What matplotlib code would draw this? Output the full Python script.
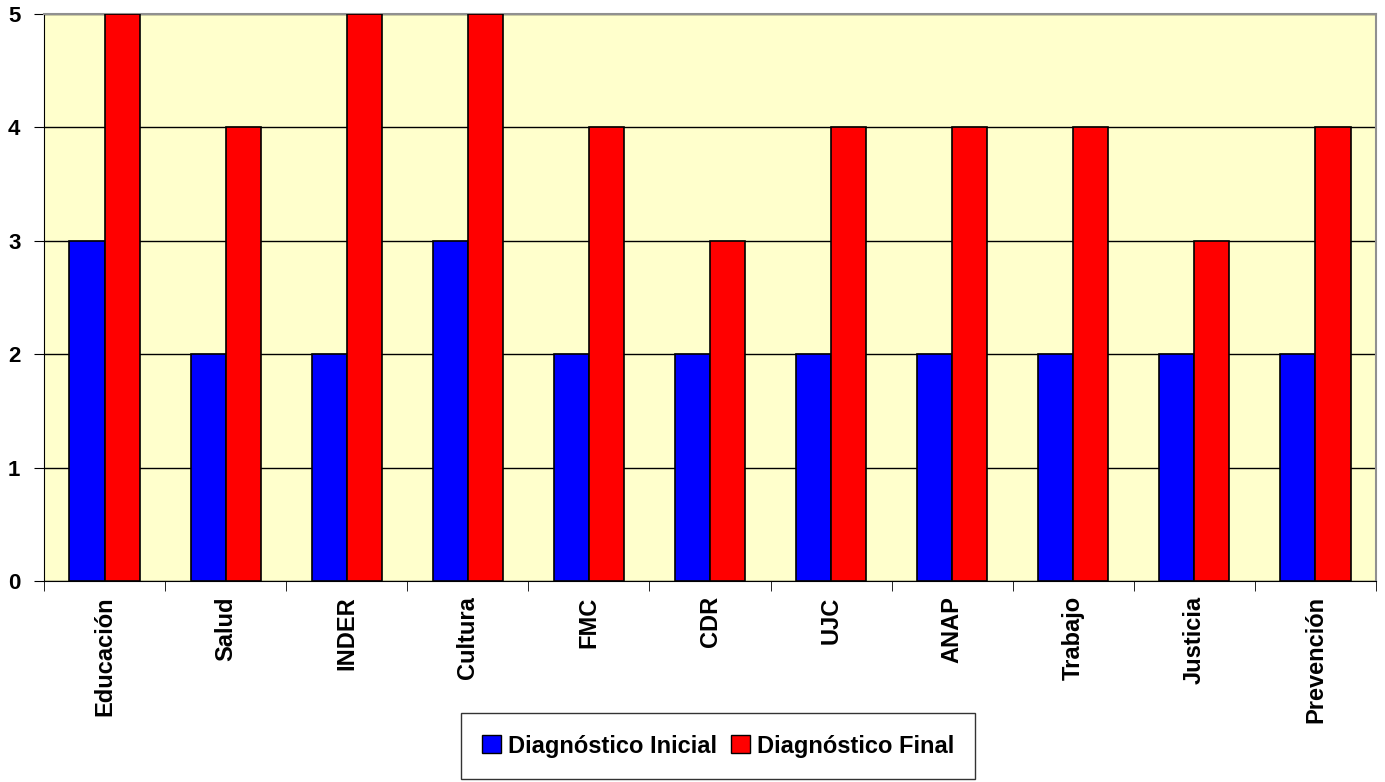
import numpy as np
import matplotlib.pyplot as plt
from matplotlib.patches import Patch

categorias = ["Educación", "Salud", "INDER", "Cultura", "FMC", "CDR", "UJC",
              "ANAP", "Trabajo", "Justicia", "Prevención"]
inicial = [3, 2, 2, 3, 2, 2, 2, 2, 2, 2, 2]
final = [5, 4, 5, 5, 4, 3, 4, 4, 4, 3, 4]

plt.rcParams['font.family'] = ['Liberation Sans', 'DejaVu Sans']
plt.rcParams['font.weight'] = 'bold'

fig = plt.figure(figsize=(13.85, 7.82), dpi=100)
ax = fig.add_axes([44 / 1385, 1 - 581 / 782, 1332 / 1385, 567 / 782])
ax.set_facecolor('#FFFFCC')

x = np.arange(len(categorias))
w = 0.29
ax.bar(x - w / 2, inicial, w, color='#0000FF', edgecolor='black', linewidth=1.2, zorder=3)
ax.bar(x + w / 2, final, w, color='#FF0000', edgecolor='black', linewidth=1.2, zorder=3)

ax.set_xlim(-0.5, len(categorias) - 0.5)
ax.set_ylim(0, 5)
ax.set_yticks(range(6))
ax.yaxis.grid(True, color='black', linewidth=1, zorder=1)
ax.set_axisbelow(True)

ax.set_xticks(x)
ax.set_xticklabels(categorias, rotation=90, fontsize=17, fontweight='bold')
ax.tick_params(axis='x', length=0, pad=11)
ax.set_xticks(np.arange(len(categorias) + 1) - 0.5, minor=True)
ax.tick_params(axis='x', which='minor', length=7, color='black')
ax.tick_params(axis='y', length=7, labelsize=16, pad=10)
for lbl in ax.get_yticklabels():
    lbl.set_fontweight('bold')

for s in ['top', 'right']:
    ax.spines[s].set_color('#909090')
    ax.spines[s].set_linewidth(1.5)
for s in ['left', 'bottom']:
    ax.spines[s].set_color('black')

handles = [Patch(facecolor='#0000FF', edgecolor='black', label='Diagnóstico Inicial'),
           Patch(facecolor='#FF0000', edgecolor='black', label='Diagnóstico Final')]
leg = fig.legend(handles=handles, loc='center', bbox_to_anchor=(718 / 1385, 1 - 746 / 782),
                 ncol=2, fancybox=False, frameon=True, edgecolor='black',
                 prop={'size': 17, 'weight': 'bold'}, handlelength=0.8, handleheight=0.8,
                 handletextpad=0.3, columnspacing=0.6, borderpad=0.9)
leg.get_frame().set_linewidth(1)

fig.savefig('out.png', dpi=100)
